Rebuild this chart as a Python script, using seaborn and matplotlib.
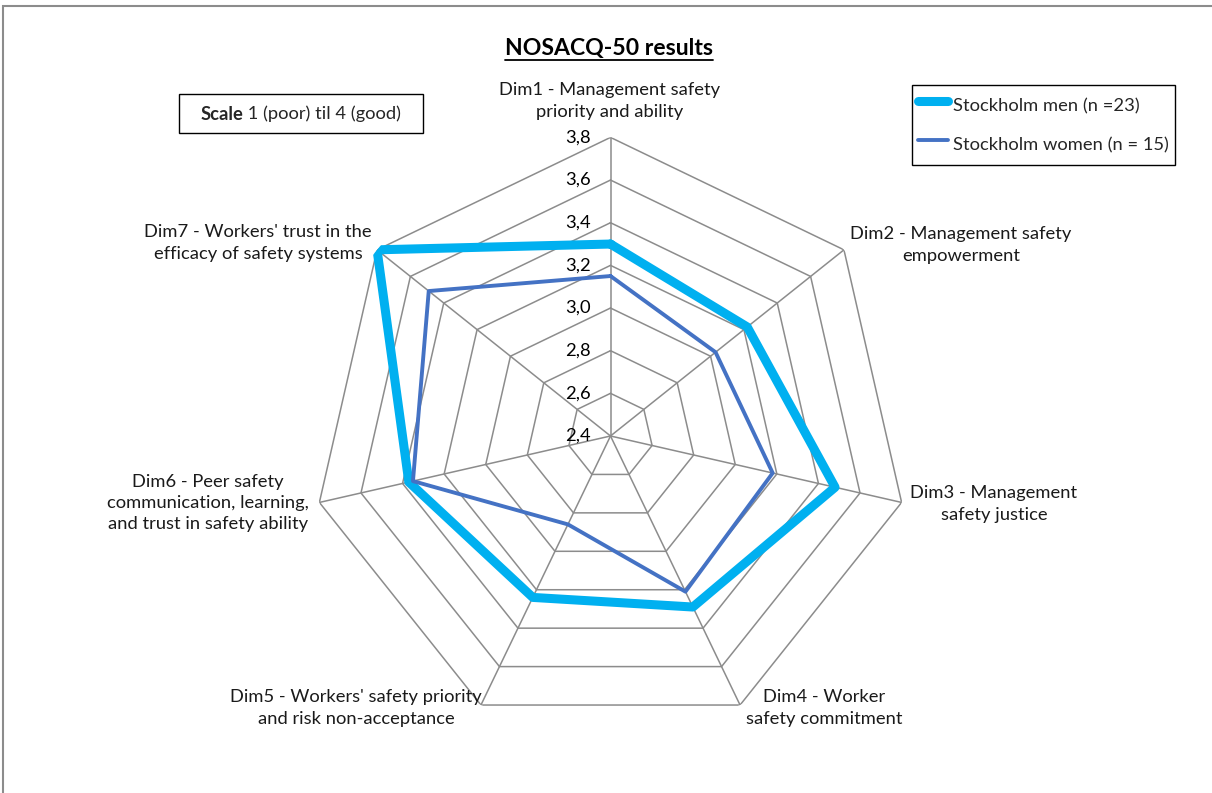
import numpy as np
import matplotlib
matplotlib.use("Agg")
import matplotlib.pyplot as plt
from matplotlib.patches import Rectangle
from matplotlib.lines import Line2D
import matplotlib.transforms as mtransforms
import seaborn as sns

# ---------------- data ----------------
dimensions = [
    "Dim1 - Management safety\npriority and ability",
    "Dim2 - Management safety\nempowerment",
    "Dim3 - Management\nsafety justice",
    "Dim4 - Worker\nsafety commitment",
    "Dim5 - Workers' safety priority\nand risk non-acceptance",
    "Dim6 - Peer safety\ncommunication, learning,\nand trust in safety ability",
    "Dim7 - Workers' trust in the\nefficacy of safety systems",
]
men = [3.30, 3.22, 3.48, 3.29, 3.24, 3.37, 3.80]
women = [3.15, 3.03, 3.18, 3.21, 2.86, 3.35, 3.49]
series_names = ["Stockholm men (n =23)", "Stockholm women (n = 15)"]
tick_values = [2.4, 2.6, 2.8, 3.0, 3.2, 3.4, 3.6, 3.8]
tick_labels = ["2,4", "2,6", "2,8", "3,0", "3,2", "3,4", "3,6", "3,8"]
title = "NOSACQ-50 results"

# ---------------- style ----------------
sns.set_style("white")
plt.rcParams["font.family"] = ["Lato", "DejaVu Sans"]
FS = 13.2

W, H = 1212, 793
fig = plt.figure(figsize=(W / 100, H / 100), dpi=100)
fig.patch.set_facecolor("white")

def fx(px):
    return px / W

def fy(py):
    return 1 - py / H

# polar axes placement (pixels)
cx, cy, R = 610.5, 436.0, 298.6
ax = fig.add_axes([fx(cx - R), fy(cy + R), 2 * R / W, 2 * R / H], projection="polar")
ax.set_theta_zero_location("N")
ax.set_theta_direction(-1)
ax.set_ylim(tick_values[0], tick_values[-1])
ax.grid(False)
ax.set_xticks([])
ax.set_yticks([])
ax.spines["polar"].set_visible(False)
ax.patch.set_visible(False)

n = len(dimensions)
theta_c = np.linspace(0, 2 * np.pi, n + 1)  # closed (last == 2*pi)
theta = theta_c[:-1]

grid_col = "#8c8c8c"
for lvl in tick_values[1:]:
    ax.plot(theta_c, [lvl] * (n + 1), color=grid_col, lw=1.1, zorder=1)
for th in theta:
    ax.plot([th, th], [tick_values[0], tick_values[-1]], color=grid_col, lw=1.1, zorder=1)

men_c = men + [men[0]]
women_c = women + [women[0]]
sns.lineplot(x=theta_c, y=men_c, sort=False, estimator=None, ax=ax, color="#00B0F0",
             linewidth=6.5, solid_joinstyle="round", zorder=3)
sns.lineplot(x=theta_c, y=women_c, sort=False, estimator=None, ax=ax, color="#4472C4",
             linewidth=2.8, solid_joinstyle="round", zorder=4)
ax.set_xlabel("")
ax.set_ylabel("")
if ax.get_legend() is not None:
    ax.get_legend().remove()

# tick labels along Dim1 axis
off = mtransforms.offset_copy(ax.transData, fig=fig, x=-20, y=0, units="dots")
for v, lab in zip(tick_values, tick_labels):
    ax.text(0, v, lab, transform=off, ha="right", va="center", fontsize=FS, color="black")

# category labels (pixel centres)
label_pos = [(610, 101), (961, 245), (994, 504), (824, 708), (356, 708), (208, 503), (258, 243)]
for txt, (px, py) in zip(dimensions, label_pos):
    fig.text(fx(px), fy(py), txt, ha="center", va="center", fontsize=FS,
             color="#1a1a1a", linespacing=1.4)

# title with underline
t = fig.text(fx(609), fy(48), title, ha="center", va="center", fontsize=16.6,
             fontweight="bold", color="black")
fig.canvas.draw()
rend = fig.canvas.get_renderer()
bb = t.get_window_extent(rend)
uy = bb.y0 - 1
fig.add_artist(Line2D([bb.x0 / W, bb.x1 / W], [uy / H, uy / H], color="black", lw=1.3,
                      transform=fig.transFigure))

# scale box
fig.add_artist(Rectangle((fx(179), fy(133)), (423 - 179) / W, (133 - 94) / H, fill=False,
                         edgecolor="black", lw=1.0, transform=fig.transFigure))
s1 = fig.text(0, fy(114), "Scale", fontweight="bold", fontsize=FS, va="center", ha="left")
s2 = fig.text(0, fy(114), " 1 (poor) til 4 (good)", fontsize=FS, va="center", ha="left")
w1 = s1.get_window_extent(rend).width
w2 = s2.get_window_extent(rend).width
x0 = 301 - (w1 + w2) / 2
s1.set_x(x0 / W)
s2.set_x((x0 + w1) / W)

# legend
handles = [Line2D([], [], color="#00B0F0", lw=6.5, solid_capstyle="round"),
           Line2D([], [], color="#4472C4", lw=2.8, solid_capstyle="round")]
leg = fig.legend(handles, series_names, loc="upper left", bbox_to_anchor=(fx(912), fy(85)),
                 frameon=True, fancybox=False, edgecolor="black", framealpha=1,
                 borderaxespad=0, handlelength=1.65, handleheight=2.1, handletextpad=0.3,
                 labelspacing=0.55, borderpad=0.3, fontsize=FS)
leg.get_frame().set_linewidth(1.0)

# outer chart border
fig.add_artist(Rectangle((fx(3), -0.1), 1.2, fy(6) + 0.1, fill=False, edgecolor="#8c8c8c",
                         lw=1.5, transform=fig.transFigure))

fig.savefig("out.png", dpi=100, facecolor="white")
